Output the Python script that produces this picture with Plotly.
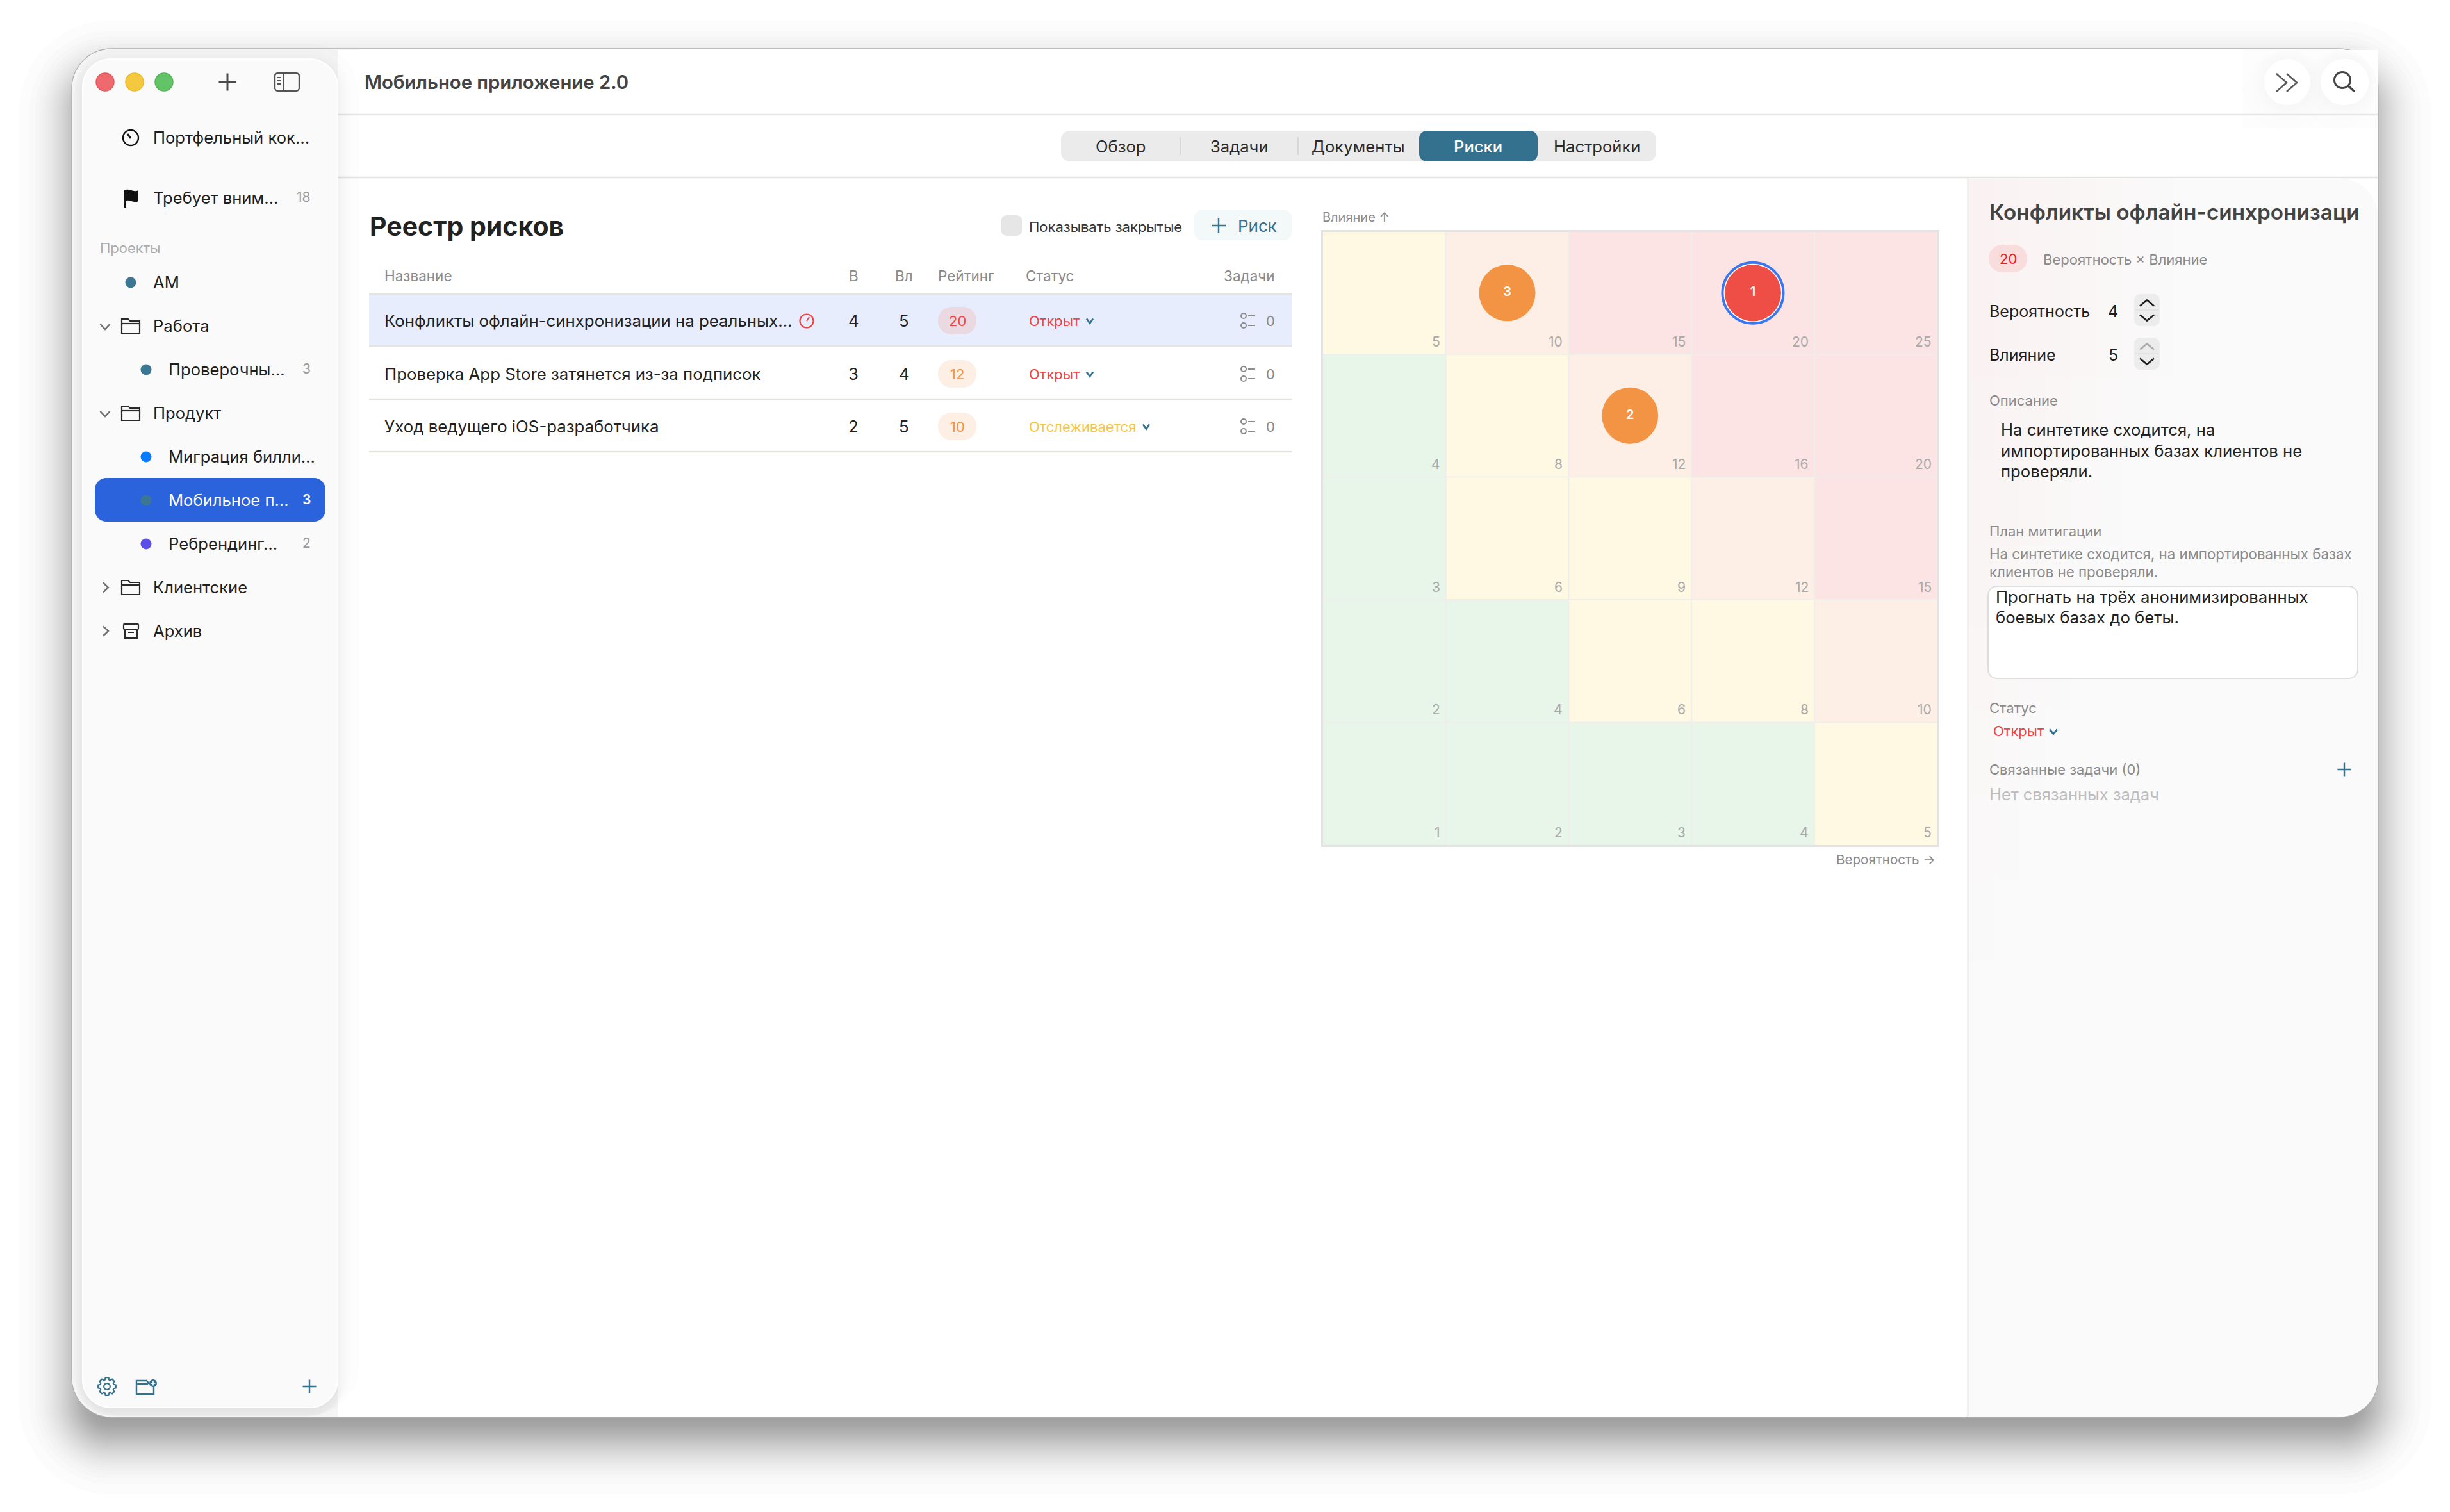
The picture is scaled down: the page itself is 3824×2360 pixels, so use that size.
import math
from statistics import NormalDist
import plotly.graph_objects as go

# ---------- data ----------
PROJECT_TITLE = "Мобильное приложение 2.0"
TABS = ["Обзор", "Задачи", "Документы", "Риски", "Настройки"]
ACTIVE_TAB = "Риски"
SIDEBAR_LABELS = ["АМ", "Работа", "Проверочны…", "Продукт", "Миграция билли…",
                  "Мобильное п…", "Ребрендинг…", "Клиентские", "Архив"]
SIDEBAR_COUNTS = ["", "", "3", "", "", "3", "2", "", ""]
TABLE_HEADERS = ["Название", "В", "Вл", "Рейтинг", "Статус", "Задачи"]
RISK_NAMES = ["Конфликты офлайн-синхронизации на реальных…",
              "Проверка App Store затянется из-за подписок",
              "Уход ведущего iOS-разработчика"]
RISK_NUMBERS = [1, 2, 3]
RISK_LIKELIHOOD = [4, 3, 2]
RISK_IMPACT = [5, 4, 5]
RISK_RATING = [20, 12, 10]
RISK_STATUS = ["Открыт", "Открыт", "Отслеживается"]
RISK_TASKS = [0, 0, 0]
SELECTED_RISK = 1
MATRIX_AXIS = [1, 2, 3, 4, 5]
MATRIX_VALUES = [[1, 2, 3, 4, 5],
                 [2, 4, 6, 8, 10],
                 [3, 6, 9, 12, 15],
                 [4, 8, 12, 16, 20],
                 [5, 10, 15, 20, 25]]
DESCRIPTION_LINES = ["На синтетике сходится, на", "импортированных базах клиентов не", "проверяли."]
MITIGATION_HINT = ["На синтетике сходится, на импортированных базах", "клиентов не проверяли."]
MITIGATION_LINES = ["Прогнать на трёх анонимизированных", "боевых базах до беты."]

# ---------- style ----------
W, H = 3824, 2360
FONT = "Inter"
TEAL = "#33718E"
DARK = "#222222"
GRAY = "#8A8A8A"
RED = "#EF4444"
ORANGE = "#F29444"
YELLOW = "#F5C53C"
STATUS_COLOR = {"Открыт": RED, "Отслеживается": YELLOW}

shapes, notes = [], []


def rr_path(x0, y0, x1, y1, r, tl=True, tr=True, br=True, bl=True):
    k = 0.45 * r
    p = []
    p.append(f"M{x0 + (r if tl else 0)},{y0}")
    p.append(f"L{x1 - (r if tr else 0)},{y0}")
    if tr:
        p.append(f"C{x1 - k},{y0} {x1},{y0 + k} {x1},{y0 + r}")
    p.append(f"L{x1},{y1 - (r if br else 0)}")
    if br:
        p.append(f"C{x1},{y1 - k} {x1 - k},{y1} {x1 - r},{y1}")
    p.append(f"L{x0 + (r if bl else 0)},{y1}")
    if bl:
        p.append(f"C{x0 + k},{y1} {x0},{y1 - k} {x0},{y1 - r}")
    p.append(f"L{x0},{y0 + (r if tl else 0)}")
    if tl:
        p.append(f"C{x0},{y0 + k} {x0 + k},{y0} {x0 + r},{y0}")
    return " ".join(p) + " Z"


def add_path(path, fill="rgba(0,0,0,0)", line=None, lw=0, op=1.0):
    shapes.append(dict(type="path", path=path, xref="x", yref="y", layer="below",
                       fillcolor=fill, opacity=op,
                       line=dict(color=line or "rgba(0,0,0,0)", width=lw)))


def rect(x0, y0, x1, y1, r=0, fill="#fff", line=None, lw=0, op=1.0, **corners):
    add_path(rr_path(x0, y0, x1, y1, r, **corners), fill, line, lw, op)


def circ(cx, cy, d, fill="rgba(0,0,0,0)", line=None, lw=0):
    shapes.append(dict(type="circle", xref="x", yref="y", layer="below",
                       x0=cx - d / 2, x1=cx + d / 2, y0=cy - d / 2, y1=cy + d / 2,
                       fillcolor=fill, line=dict(color=line or "rgba(0,0,0,0)", width=lw)))


def stroke(path, color, lw=2.5):
    add_path(path, "rgba(0,0,0,0)", color, lw)


def hline(x0, x1, y, color, lw=2.5):
    stroke(f"M{x0},{y} L{x1},{y}", color, lw)


def text(x, y, s, size=25, color=DARK, anchor="left", weight=400, family=FONT):
    dx = -1.5 if anchor == "left" else 0
    notes.append(dict(x=x + dx, y=y - 0.5, xref="x", yref="y", text=s, showarrow=False,
                      xanchor=anchor, yanchor="middle", borderpad=0,
                      font=dict(family=family, size=size, color=color, weight=weight)))


def gauss_offsets(sigma, n):
    """Outermost first: spread of layers that together give a blurred edge."""
    nd = NormalDist()
    return [sigma * nd.inv_cdf(0.985 - 0.97 * i / (n - 1)) for i in range(n)]


def window_shadow(dy, sigma, total, n):
    a = 1 - (1 - total) ** (1 / n)
    for e in gauss_offsets(sigma, n):
        rect(112 - e, 76 + dy - e, 3712 + e, 2212 + dy + e, max(60 + e, 4),
             fill="#000000", op=a)


def plus(cx, cy, s, color, lw=3):
    stroke(f"M{cx - s / 2},{cy} L{cx + s / 2},{cy} M{cx},{cy - s / 2} L{cx},{cy + s / 2}", color, lw)


def chevron(cx, cy, w, h, color, lw=2.5, up=False):
    d = -h if up else h
    stroke(f"M{cx - w / 2},{cy - d / 2} L{cx},{cy + d / 2} L{cx + w / 2},{cy - d / 2}", color, lw)


def chevron_right(cx, cy, w, h, color, lw=2.5):
    stroke(f"M{cx - w / 2},{cy - h / 2} L{cx + w / 2},{cy} L{cx - w / 2},{cy + h / 2}", color, lw)


def folder(cx, cy, color="#2a2a2a"):
    x0, x1, y0, y1 = cx - 14, cx + 14, cy - 11, cy + 11
    stroke(f"M{x0},{y1} L{x0},{y0} L{x0 + 10},{y0} L{x0 + 13},{y0 + 3} L{x1},{y0 + 3} L{x1},{y1} Z", color, 2.2)
    stroke(f"M{x0},{y0 + 7} L{x1},{y0 + 7}", color, 2.2)


def gear(cx, cy, r, color):
    pts = []
    for i in range(8):
        a = i * math.pi / 4
        for da, rad in ((-0.30, r * 0.78), (-0.17, r), (0.17, r), (0.30, r * 0.78)):
            pts.append((cx + rad * math.cos(a + da), cy + rad * math.sin(a + da)))
    stroke("M" + " L".join(f"{px:.1f},{py:.1f}" for px, py in pts) + " Z", color, 2.2)
    circ(cx, cy, r * 0.7, line=color, lw=2.2)


# ---------- window ----------
window_shadow(38, 38, 0.40, 40)
rect(112, 76, 3712, 2212, 62, fill="#FFFFFF", line="#B0B0B0", lw=1.3)
rect(113, 77, 560, 2211, 60, fill="#F5F5F5", tr=False, br=False)
rect(527, 180, 560, 2211, 0, fill="#FFFFFF")

# main header area
rect(527, 78, 3711, 278, 0, fill="#FFFFFF", tl=False, tr=False, bl=False, br=False)
rect(3500, 77, 3711, 200, 60, fill="#FDFDFD", tl=False, bl=False, br=False)
for bx0, bx1 in ((3534, 3606), (3622, 3697)):
    for e in gauss_offsets(16, 10):
        rect(bx0 - e, max(92 - e, 78), min(bx1 + e, 3710), 164 + 6 + e, 36 + max(e, 0),
             fill="#000000", op=0.0035)
hline(527, 3711, 179, "#E6E6E3", 2.5)
hline(527, 3711, 277, "#E4E4E0", 2.5)

# sidebar with soft shadow
for e in gauss_offsets(15, 14):
    rect(max(129 - e, 116), 92 + 8 - e, 527 + e, min(2197 + 8 + e, 2210), 44 + max(e, 0),
         fill="#000000", op=0.0075)
rect(129, 92, 527, 2197, 44, fill="#FAFAFA", line="#FFFFFF", lw=2)

# traffic lights
circ(164, 128, 28, "#EF6A6E", "#E5545A", 1.4)
circ(210, 128, 28, "#F4C93F", "#EBB92B", 1.4)
circ(256, 128, 28, "#62C466", "#4EB653", 1.4)
plus(355, 128, 27, "#4A4A4A", 3)
stroke(rr_path(429, 114, 467, 142, 5), "#555555", 2.4)
stroke("M443,114 L443,142 M433,121 L439,121 M433,126 L439,126 M433,131 L439,131", "#555555", 2)

# sidebar
circ(204, 215, 24, line="#111111", lw=2.4)
stroke("M199,209 L204,216", "#111111", 3)
text(239, 215, "Портфельный кок…", 25.6, "#1F1F1F")
add_path("M194,297 C201,293 208,301 216,297 L216,314 C208,318 201,310 196,314 L196,324 L193,324 Z", "#111111")
text(239, 309, "Требует вним…", 25.6, "#1F1F1F")
text(486, 308, "18", 21, "#9A9A9A", "right")
text(156, 387, "Проекты", 22, "#ABABAB")

ROW_Y0, ROW_STEP = 441, 68
KINDS = ["dot0", "folder-open", "dot1", "folder-open", "dot1", "dot1", "dot1", "folder-closed", "archive"]
DOTS = ["#3B7793", None, "#3B7793", None, "#0A7AFF", "#3B7793", "#5B4FE6", None, None]
SELECTED_ROW = 5
rect(148, 746, 508, 814, 18, fill="#2B63DC")
for i, (lab, cnt) in enumerate(zip(SIDEBAR_LABELS, SIDEBAR_COUNTS)):
    y = ROW_Y0 + ROW_STEP * i
    sel = i == SELECTED_ROW
    col = "#FFFFFF" if sel else "#1F1F1F"
    kind = KINDS[i]
    if kind == "dot0":
        circ(204, y, 17, DOTS[i])
        text(239, y, lab, 25.6, col)
    elif kind == "dot1":
        circ(228, y, 17, DOTS[i])
        text(263, y, lab, 25.6, col)
    else:
        if kind == "folder-open":
            chevron(164, y + 1, 15, 8, "#6E6E6E", 2.4)
            folder(204, y)
        elif kind == "folder-closed":
            chevron_right(165, y, 8, 15, "#6E6E6E", 2.4)
            folder(204, y)
        else:
            chevron_right(165, y, 8, 15, "#6E6E6E", 2.4)
            stroke(rr_path(193, y - 11, 216, y - 3, 1), "#2A2A2A", 2.2)
            stroke(f"M195,{y - 3} L195,{y + 11} L214,{y + 11} L214,{y - 3} M200,{y + 2} L209,{y + 2}", "#2A2A2A", 2.2)
        text(239, y, lab, 25.6, col)
    if cnt:
        text(486, y - 1, cnt, 21, "#FFFFFF" if sel else "#9A9A9A", "right", 600 if sel else 400)

gear(167, 2164, 14, TEAL)
stroke("M213,2155 L229,2155 L232,2159 L240,2159 L240,2176 L213,2176 Z M213,2160 L231,2160", TEAL, 2.4)
circ(239, 2159, 12, TEAL)
plus(239, 2159, 7, "#FFFFFF", 1.6)
plus(483, 2164, 21, TEAL, 2.4)

# header
text(569, 129, PROJECT_TITLE, 29.3, "#444444", weight=600)
rect(3534, 92, 3606, 164, 36, fill="#FFFFFF")
rect(3622, 92, 3697, 164, 36, fill="#FFFFFF")
stroke("M3553,115 L3569,129 L3553,143 M3569,115 L3585,129 L3569,143", "#5A5A5A", 2.6)
circ(3656, 125, 25, line="#444444", lw=3)
stroke("M3665,134 L3675,143", "#444444", 3.4)

# tabs
TAB_CENTERS = [1749, 1934, 2120, 2307, 2493]
rect(1656, 204, 2585, 252, 14, fill="#EBEBEB")
for sx in (1842, 2026):
    stroke(f"M{sx},214 L{sx},242", "#D6D6D6", 2)
rect(2215, 204, 2400, 252, 12, fill=TEAL)
for t, cx in zip(TABS, TAB_CENTERS):
    text(cx, 229, t, 25.6, "#FFFFFF" if t == ACTIVE_TAB else "#2A2A2A", "center", 500 if t == ACTIVE_TAB else 400)

# register
text(577, 353, "Реестр рисков", 41, "#222222", weight=700)
rect(1563, 336, 1595, 368, 8, fill="#E6E6E6")
text(1606, 354, "Показывать закрытые", 22, "#333333")
rect(1864, 328, 2016, 375, 12, fill="#F3F8F9")
plus(1902, 352, 22, TEAL, 2.4)
text(1932, 353, "Риск", 26, TEAL)

COL_X = [600, 1332, 1411, 1464, 1601, 1991]
COL_ANCHOR = ["left", "center", "center", "left", "left", "right"]
for h, x, a in zip(TABLE_HEADERS, COL_X, COL_ANCHOR):
    text(x, 431, h, 22.5, GRAY, a)

ROW_LINES = [459, 540, 623, 705]
ROW_MID = [501, 584, 666]
rect(576, 459, 2016, 540, 0, fill="#E7EDFD")
for ly in ROW_LINES:
    hline(576, 2016, ly, "#E5E5E0", 2.5)
for i, name in enumerate(RISK_NAMES):
    y = ROW_MID[i]
    text(600, y, name, 25.8, "#222222")
    text(1332, y, str(RISK_LIKELIHOOD[i]), 25.8, "#222222", "center")
    text(1411, y, str(RISK_IMPACT[i]), 25.8, "#222222", "center")
    hot = RISK_RATING[i] >= 15
    rect(1464, y - 22, 1524, y + 21, 21, fill="#EBD9E1" if hot else "#FDEFE3")
    text(1494, y, str(RISK_RATING[i]), 22, RED if hot else ORANGE, "center")
    st = RISK_STATUS[i]
    text(1606, y, st, 22, STATUS_COLOR[st])
    chevron(1701 if st == "Открыт" else 1789, y, 10, 7, TEAL, 2.8)
    circ(1941, y - 8, 8, line="#8A8A8A", lw=2)
    circ(1941, y + 7, 8, line="#8A8A8A", lw=2)
    stroke(f"M1948,{y - 8} L1959,{y - 8} M1948,{y + 7} L1959,{y + 7}", "#8A8A8A", 2)
    text(1991, y, str(RISK_TASKS[i]), 22, "#8A8A8A", "right")
circ(1259, ROW_MID[0], 21, line=RED, lw=2.2)
stroke(f"M1259,{ROW_MID[0]} L1263,{ROW_MID[0] - 6}", RED, 2)

# matrix captions
text(2064, 339, "Влияние ↑", 20, GRAY)
text(3022, 1342, "Вероятность →", 20.6, GRAY, "right")

# detail panel
stroke("M3071.5,278 L3071.5,2212", "#E8E8E6", 2.5)
rect(3073, 279, 3711, 2211, 58, fill="#FAFAFA", tl=False, bl=False)
for i in range(8):
    rect(3073, 279, 3073 + 40 * (i + 1), 1500 - 130 * i, 0, fill="#FFE6E0", op=0.035,
         tl=False, tr=False, br=False, bl=False)
text(3105, 331, "Конфликты офлайн-синхронизаци", 33.3, "#444444", weight=600)
rect(3104, 382, 3164, 425, 21, fill="#F9DCDC")
text(3134, 404, str(RISK_RATING[0]), 22, "#F02020", "center")
text(3189, 405, "Вероятность × Влияние", 22, GRAY)
text(3105, 486, "Вероятность", 25, "#1F1F1F")
text(3298, 486, str(RISK_LIKELIHOOD[0]), 25, "#1F1F1F", "center")
text(3105, 554, "Влияние", 25, "#1F1F1F")
text(3298, 554, str(RISK_IMPACT[0]), 25, "#1F1F1F", "center")
for y0, up_col in ((459, "#1F1F1F"), (527, "#AAAAAA")):
    rect(3331, y0, 3371, y0 + 50, 10, fill="#ECECEC")
    hline(3333, 3369, y0 + 25, "#E0E0E0", 1.5)
    chevron(3351, y0 + 14, 22, 9, up_col, 2.6, up=True)
    chevron(3351, y0 + 37, 22, 9, "#1F1F1F", 2.6)
text(3105, 625, "Описание", 22, GRAY)
for line_txt, y in zip(DESCRIPTION_LINES, (671, 704, 736)):
    text(3123, y, line_txt, 25.7, "#222222")
text(3105, 829, "План митигации", 22, GRAY)
for line_txt, y in zip(MITIGATION_HINT, (865, 893)):
    text(3105, y, line_txt, 22.3, GRAY)
rect(3103, 915, 3680, 1059, 14, fill="#FFFFFF", line="#DEDEDE", lw=2)
for line_txt, y in zip(MITIGATION_LINES, (932, 964)):
    text(3115, y, line_txt, 25.7, "#222222")
text(3105, 1105, "Статус", 22, GRAY)
text(3111, 1141, RISK_STATUS[0], 22, RED)
chevron(3205, 1142, 12, 7, TEAL, 2.8)
text(3105, 1201, f"Связанные задачи ({RISK_TASKS[0]})", 22, GRAY)
plus(3659, 1201, 21, TEAL, 2.4)
text(3105, 1240, "Нет связанных задач", 25.5, "#BDBDBD")

# ---------- matrix (data axes) ----------
STEPS = [[0.0, "#E8F5E9"], [0.1458, "#E8F5E9"], [0.1458, "#FFF8E3"], [0.354, "#FFF8E3"],
         [0.354, "#FDEFE5"], [0.52, "#FDEFE5"], [0.52, "#FBE4E3"], [1.0, "#FBE4E3"]]
heat = go.Heatmap(x=MATRIX_AXIS, y=MATRIX_AXIS, z=MATRIX_VALUES, zmin=1, zmax=25,
                  colorscale=STEPS, showscale=False, hoverinfo="skip",
                  xaxis="x2", yaxis="y2")
sel = RISK_NUMBERS.index(SELECTED_RISK)
ring = go.Scatter(x=[RISK_LIKELIHOOD[sel]], y=[RISK_IMPACT[sel]], mode="markers",
                  marker=dict(size=95, color="#FFFFFF", line=dict(color="#3B78F0", width=4)),
                  hoverinfo="skip", xaxis="x2", yaxis="y2", showlegend=False)
risks = go.Scatter(x=RISK_LIKELIHOOD, y=RISK_IMPACT, mode="markers+text",
                   text=[str(n) for n in RISK_NUMBERS], textposition="middle center",
                   textfont=dict(family=FONT, size=20, color="#FFFFFF", weight=600),
                   marker=dict(size=88, line=dict(width=0),
                               color=["#EF4E47" if r >= 15 else ORANGE for r in RISK_RATING]),
                   hoverinfo="skip", xaxis="x2", yaxis="y2", showlegend=False)
anchor_trace = go.Scatter(x=[0], y=[0], mode="markers", marker=dict(opacity=0, size=1),
                          hoverinfo="skip", xaxis="x", yaxis="y", showlegend=False)

for row, impact in zip(MATRIX_VALUES, MATRIX_AXIS):
    for val, like in zip(row, MATRIX_AXIS):
        notes.append(dict(x=like + 0.5, y=impact - 0.5, xref="x2", yref="y2", text=str(val),
                          showarrow=False, xanchor="right", yanchor="middle",
                          xshift=-7, yshift=20,
                          font=dict(family=FONT, size=21, color="#A9A9A9")))
for edge in (1.5, 2.5, 3.5, 4.5):
    for sp in (dict(x0=edge, x1=edge, y0=0.5, y1=5.5), dict(x0=0.5, x1=5.5, y0=edge, y1=edge)):
        shapes.append(dict(type="line", xref="x2", yref="y2", layer="above",
                           line=dict(color="#F0EEE9", width=2), **sp))

hidden = dict(visible=True, showgrid=False, zeroline=False, showticklabels=False, ticks="")
fig = go.Figure([anchor_trace, heat, ring, risks])
fig.update_layout(
    width=W, height=H, autosize=False, margin=dict(l=0, r=0, t=0, b=0, pad=0),
    paper_bgcolor="#FFFFFF", plot_bgcolor="rgba(0,0,0,0)", showlegend=False,
    font=dict(family=FONT), shapes=shapes, annotations=notes,
    xaxis=dict(range=[0, W], domain=[0, 1], showline=False, anchor="y", **hidden),
    yaxis=dict(range=[H, 0], domain=[0, 1], showline=False, anchor="x", **hidden),
    xaxis2=dict(range=[0.5, 5.5], domain=[2065 / W, 3023.5 / W], anchor="y2",
                showline=True, mirror=True, linecolor="#E3E3E3", linewidth=3, **hidden),
    yaxis2=dict(range=[0.5, 5.5], domain=[1 - 1319 / H, 1 - 361.5 / H], anchor="x2",
                showline=True, mirror=True, linecolor="#E3E3E3", linewidth=3, **hidden),
)
fig.write_html("out.html", config=dict(displayModeBar=False),
               post_script="document.body.style.margin='0';document.body.style.overflow='hidden';")
